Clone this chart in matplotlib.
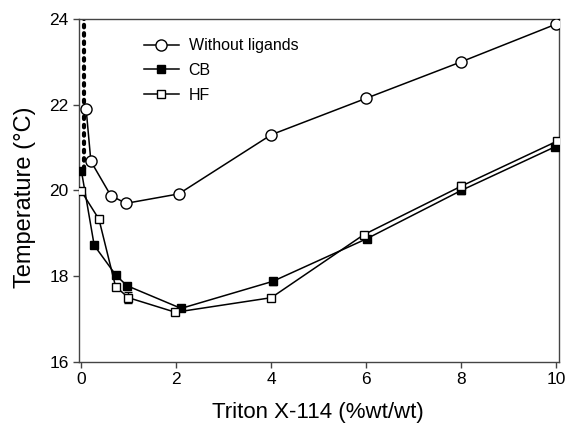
import matplotlib
matplotlib.use("Agg")
import matplotlib.pyplot as plt
from matplotlib.lines import Line2D

plt.rcParams['font.family'] = ['Liberation Sans', 'DejaVu Sans']

# without ligands
x_free = [0.1, 0.2, 0.62, 0.94, 2.05, 4.0, 6.0, 8.0, 10.0]
t_free = [21.9, 20.68, 19.88, 19.7, 19.92, 21.3, 22.15, 23.0, 23.88]

# CB
x_cb = [0.0, 0.27, 0.73, 0.96, 2.1, 4.03, 6.02, 8.0, 9.98]
t_cb = [20.46, 18.72, 18.02, 17.78, 17.25, 17.88, 18.88, 20.0, 21.02]
e_cb = [0.05, 0.04, 0.06, 0.06, 0.04, 0.08, 0.05, 0.08, 0.05]

# HF
x_hf = [0.0, 0.37, 0.72, 0.99, 1.98, 4.0, 5.95, 8.0, 10.02]
t_hf = [19.98, 19.33, 17.76, 17.5, 17.16, 17.5, 18.97, 20.1, 21.15]
e_hf = [0.05, 0.05, 0.06, 0.13, 0.04, 0.04, 0.05, 0.1, 0.05]

# dotted vertical trace near zero
x_dot = [0.06, 0.06]
t_dot = [20.5, 24.0]

fig = plt.figure(figsize=(5.66, 4.23), dpi=100)
ax = fig.add_axes([0.1396, 0.1442, 0.848, 0.811])

ax.plot(x_dot, t_dot, color='black', linestyle=(0, (0.6, 1.4)), linewidth=3.0,
        dash_capstyle='round', zorder=1)

ax.plot(x_free, t_free, color='black', linewidth=1.1, marker='o', markersize=8,
        markerfacecolor='white', markeredgecolor='black', markeredgewidth=1.0,
        zorder=3)
ax.errorbar(x_cb, t_cb, yerr=e_cb, color='black', linewidth=1.1, marker='s',
            markersize=5.5, markerfacecolor='black', markeredgecolor='black',
            capsize=3, elinewidth=1.0, zorder=3)
ax.errorbar(x_hf, t_hf, yerr=e_hf, color='black', linewidth=1.1, marker='s',
            markersize=5.5, markerfacecolor='white', markeredgecolor='black',
            capsize=3, elinewidth=1.0, zorder=4)

ax.set_xlim(-0.05, 10.06)
ax.set_ylim(16, 24)
ax.set_xticks([0, 2, 4, 6, 8, 10])
ax.set_yticks([16, 18, 20, 22, 24])
ax.tick_params(direction='out', length=4, width=1, labelsize=12.5, color='#444444')
for s in ax.spines.values():
    s.set_color('#444444')
    s.set_linewidth(1.0)

ax.set_xlabel('Triton X-114 (%wt/wt)', fontsize=16)
ax.set_ylabel('Temperature (°C)', fontsize=17)
ax.xaxis.set_label_coords(0.498, -0.118)
ax.yaxis.set_label_coords(-0.09, 0.48)

handles = [
    Line2D([], [], color='black', linewidth=1.1, marker='o', markersize=8,
           markerfacecolor='white', markeredgecolor='black'),
    Line2D([], [], color='black', linewidth=1.1, marker='s', markersize=5.5,
           markerfacecolor='black', markeredgecolor='black'),
    Line2D([], [], color='black', linewidth=1.1, marker='s', markersize=5.5,
           markerfacecolor='white', markeredgecolor='black'),
]
labels = ['Without ligands', 'CB', 'HF']
ax.legend(handles, labels, loc='upper left', bbox_to_anchor=(0.105, 0.985),
          frameon=False, fontsize=11.5, handlelength=2.2, labelspacing=0.6,
          handletextpad=0.6)

fig.savefig('out.png', dpi=100)
